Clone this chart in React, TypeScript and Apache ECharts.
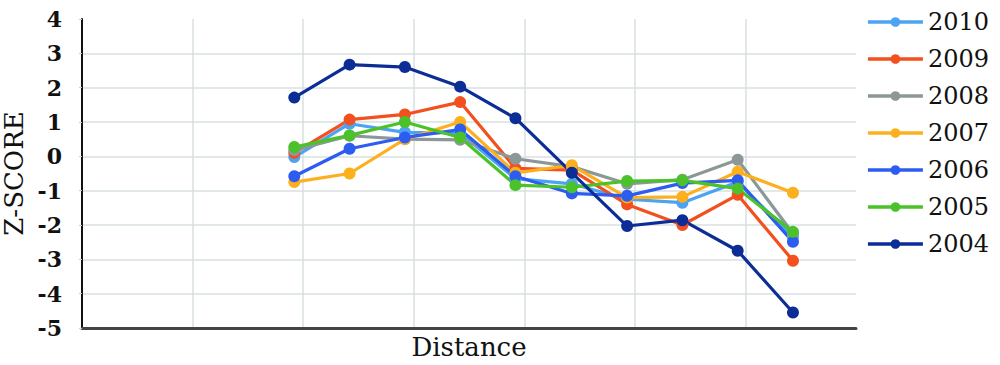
import React, { useEffect, useRef } from "react";
import * as echarts from "echarts";

const distance = [1.92, 2.42, 2.92, 3.42, 3.92, 4.43, 4.93, 5.43, 5.93, 6.43];
const years = ["2010", "2009", "2008", "2007", "2006", "2005", "2004"];
const y2010 = [-0.02, 0.95, 0.7, 0.68, -0.65, -0.8, -1.25, -1.35, -0.75, -2.35];
const y2009 = [0.1, 1.07, 1.22, 1.58, -0.35, -0.4, -1.4, -2.0, -1.12, -3.04];
const y2008 = [0.18, 0.6, 0.5, 0.48, -0.07, -0.3, -0.8, -0.68, -0.1, -2.25];
const y2007 = [-0.75, -0.5, 0.5, 1.0, -0.48, -0.26, -1.2, -1.18, -0.45, -1.06];
const y2006 = [-0.58, 0.22, 0.55, 0.78, -0.58, -1.08, -1.15, -0.78, -0.7, -2.49];
const y2005 = [0.27, 0.61, 1.0, 0.55, -0.84, -0.9, -0.72, -0.7, -0.94, -2.2];
const y2004 = [1.71, 2.67, 2.6, 2.03, 1.11, -0.48, -2.03, -1.86, -2.75, -4.55];
const seriesValues = [y2010, y2009, y2008, y2007, y2006, y2005, y2004];
const colors = ["#4ba3f2", "#f2501f", "#8c9898", "#fdb01e", "#2c5cf0", "#4cc22a", "#0d2d96"];

const FONT = "DejaVu Serif";

export default function App() {
  const ref = useRef<HTMLDivElement>(null);
  useEffect(() => {
    if (!ref.current) return;
    const chart = echarts.init(ref.current, null, { renderer: "svg" });
    chart.setOption({
      animation: false,
      grid: { left: 82, right: 144, top: 19, bottom: 37, containLabel: false, outerBoundsMode: "none" },
      legend: {
        orient: "vertical",
        right: 6,
        top: 5,
        itemWidth: 55,
        itemHeight: 12,
        itemGap: 13,
        data: years,
        lineStyle: { width: 3.5 },
        textStyle: { fontFamily: FONT, fontSize: 24, color: "#111", lineHeight: 24 },
      },
      xAxis: {
        type: "value",
        min: 0,
        max: 7,
        interval: 1,
        name: "Distance",
        nameLocation: "middle",
        nameGap: 6,
        nameTextStyle: { fontFamily: FONT, fontSize: 26, color: "#111", verticalAlign: "top" },
        axisLabel: { show: false },
        axisTick: { show: false },
        axisLine: { show: true, onZero: false, lineStyle: { color: "#444", width: 3 } },
        splitLine: { show: true, showMaxLine: false, lineStyle: { color: "#d8dfdf", width: 1.5 } },
      },
      yAxis: {
        type: "value",
        min: -5,
        max: 4,
        interval: 1,
        name: "Z-SCORE",
        nameLocation: "middle",
        nameGap: 54,
        nameTextStyle: { fontFamily: FONT, fontSize: 26, color: "#111" },
        axisLabel: { fontFamily: FONT, fontSize: 22, fontWeight: "bold", color: "#111", margin: 20 },
        axisTick: { show: true, length: 3, lineStyle: { color: "#ccc" } },
        axisLine: { show: true, onZero: false, lineStyle: { color: "#111", width: 2 } },
        splitLine: { show: true, showMaxLine: false, lineStyle: { color: "#d8dfdf", width: 1.5 } },
      },
      series: years.map((y, i) => ({
        name: y,
        type: "line",
        data: distance.map((d, j) => [d, seriesValues[i][j]]),
        symbol: "circle",
        symbolSize: 12,
        color: colors[i],
        lineStyle: { width: 3.2, color: colors[i] },
        itemStyle: { color: colors[i] },
      })),
    });
    return () => chart.dispose();
  }, []);
  return <div ref={ref} style={{ width: 1000, height: 365, position: "absolute", left: 0, top: 0 }} />;
}
